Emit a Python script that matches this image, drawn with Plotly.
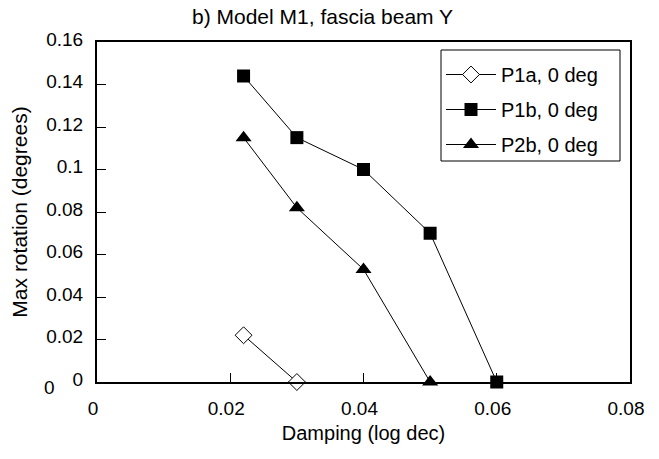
import plotly.graph_objects as go

# Damping (log dec) vs. maximum rotation (degrees)
p1a_x = [0.022, 0.030]
p1a_y = [0.022, 0.0]

p1b_x = [0.022, 0.030, 0.040, 0.050, 0.060]
p1b_y = [0.144, 0.115, 0.100, 0.070, 0.0]

p2b_x = [0.022, 0.030, 0.040, 0.050]
p2b_y = [0.115, 0.082, 0.053, 0.0]

x_ticks = [0, 0.02, 0.04, 0.06, 0.08]
x_tick_text = ["0", "0.02", "0.04", "0.06", "0.08"]
y_ticks = [0, 0.02, 0.04, 0.06, 0.08, 0.1, 0.12, 0.14, 0.16]
y_tick_text = ["0", "0.02", "0.04", "0.06", "0.08", "0.1", "0.12", "0.14", "0.16"]

FONT = "Liberation Sans, Arial, sans-serif"

fig = go.Figure()

fig.add_trace(go.Scatter(
    x=p1a_x, y=p1a_y, name="P1a, 0 deg", mode="lines+markers",
    line=dict(color="black", width=1),
    marker=dict(symbol="diamond", size=13, color="white",
                line=dict(color="black", width=1)),
    cliponaxis=False, legendgroup="a",
))
fig.add_trace(go.Scatter(
    x=p1b_x, y=p1b_y, name="P1b, 0 deg", mode="lines+markers",
    line=dict(color="black", width=1),
    marker=dict(symbol="square", size=13, color="black"),
    cliponaxis=False, legendgroup="b",
))
fig.add_trace(go.Scatter(
    x=p2b_x, y=p2b_y, name="P2b, 0 deg", mode="lines+markers",
    line=dict(color="black", width=1),
    marker=dict(symbol="triangle-up", size=14, color="black"),
    cliponaxis=False, legendgroup="c",
))

# legend frame drawn as a paper-space rectangle
W, H = 659, 459
ML, MR, MT, MB = 97, 29, 42, 77
pw, ph = W - ML - MR, H - MT - MB
def px(xp):
    return (xp - ML) / pw
def py(yp):
    return 1 - (yp - MT) / ph

fig.update_layout(
    width=W, height=H,
    margin=dict(l=ML, r=MR, t=MT, b=MB),
    paper_bgcolor="white", plot_bgcolor="white",
    font=dict(family=FONT, size=19, color="black"),
    showlegend=True,
    legend=dict(
        x=px(441), y=py(55), xanchor="left", yanchor="top",
        bgcolor="rgba(0,0,0,0)", borderwidth=0,
        font=dict(size=20), tracegroupgap=6, traceorder="grouped",
        itemwidth=50,
    ),
    shapes=[
        dict(type="rect", xref="paper", yref="paper",
             x0=px(441), x1=px(620), y0=py(161), y1=py(50),
             line=dict(color="black", width=1), fillcolor="white",
             layer="below"),
    ],
    annotations=[
        dict(text="b) Model M1, fascia beam Y", xref="paper", yref="paper",
             x=px(322), y=py(16), showarrow=False,
             font=dict(size=21), xanchor="center", yanchor="middle"),
        dict(text="0", xref="paper", yref="paper", x=px(49), y=py(387),
             showarrow=False, font=dict(size=19),
             xanchor="center", yanchor="middle"),
    ],
)

fig.update_xaxes(
    range=[0, 0.08], tickvals=x_ticks, ticktext=x_tick_text,
    ticks="inside", ticklen=9, tickcolor="black", tickwidth=1,
    showline=True, linecolor="black", linewidth=2, mirror=True,
    showgrid=False, zeroline=False, ticklabelstandoff=8, ticklabelshift=-4,
    title=dict(text="Damping (log dec)", font=dict(size=20), standoff=8),
)
fig.update_yaxes(
    range=[0, 0.16], tickvals=y_ticks, ticktext=y_tick_text,
    ticks="inside", ticklen=9, tickcolor="black", tickwidth=1,
    showline=True, linecolor="black", linewidth=2, mirror=True,
    showgrid=False, zeroline=False, ticklabelstandoff=8, ticklabelshift=-3,
    title=dict(text="Max rotation (degrees)", font=dict(size=21), standoff=13),
)

fig.write_html("out.html")
